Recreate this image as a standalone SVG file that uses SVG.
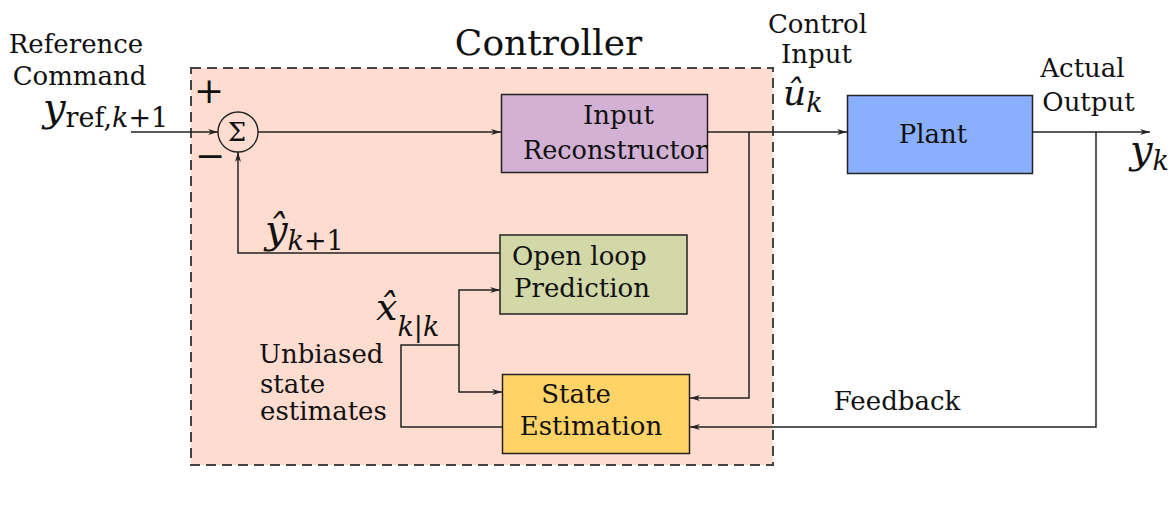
<svg xmlns="http://www.w3.org/2000/svg" width="1175" height="505" viewBox="0 0 1175 505">
  <style>
    .txt { font-family: "DejaVu Serif", "Liberation Serif", serif; font-size: 26px; fill: #111; }
    .box { stroke: #222; stroke-width: 1.5; }
    .wire { fill: none; stroke: #222; stroke-width: 1.5; }
    .math { font-family: "DejaVu Serif", "Liberation Serif", serif; font-style: italic; fill: #111; }
    .up { font-style: normal; }
  </style>
  <defs>
    <marker id="arr" viewBox="0 0 10 6" refX="10" refY="3" markerWidth="10" markerHeight="6" orient="auto" markerUnits="userSpaceOnUse">
      <path d="M0,0 L10,3 L0,6 L3,3 z" fill="#222"/>
    </marker>
  </defs>
  <rect width="1175" height="505" fill="#ffffff"/>

  <g id="controller">
    <rect x="191" y="68" width="582" height="397" fill="#FFDCD0" stroke="#444" stroke-width="2" stroke-dasharray="10,6"/>
    <text class="txt" x="548.5" y="55" text-anchor="middle" style="font-size:36px">Controller</text>
  </g>

  <g id="sum">
    <circle cx="238" cy="132" r="20" fill="none" stroke="#222" stroke-width="1.4"/>
    <text class="txt" x="237" y="141" text-anchor="middle" style="font-size:26px">Σ</text>
    <text class="txt" x="209" y="103" text-anchor="middle" style="font-size:36px">+</text>
    <text class="txt" x="210" y="168" text-anchor="middle" style="font-size:36px">−</text>
  </g>

  <g id="input-reconstructor">
    <rect class="box" x="501.5" y="94.5" width="206" height="78" fill="#D2B1D4"/>
    <text class="txt" x="618.5" y="124" text-anchor="middle">Input</text>
    <text class="txt" x="523" y="159" style="font-size:25.5px">Reconstructor</text>
  </g>

  <g id="plant">
    <rect class="box" x="847.5" y="95.5" width="185" height="78" fill="#8AAFFD"/>
    <text class="txt" x="933" y="143" text-anchor="middle">Plant</text>
  </g>

  <g id="open-loop-prediction">
    <rect class="box" x="500" y="235" width="187" height="79" fill="#D2D8A8"/>
    <text class="txt" x="512" y="265">Open loop</text>
    <text class="txt" x="514" y="297">Prediction</text>
  </g>

  <g id="state-estimation">
    <rect class="box" x="502.5" y="374.5" width="187" height="79" fill="#FFD366"/>
    <text class="txt" x="576" y="403" text-anchor="middle">State</text>
    <text class="txt" x="591" y="435" text-anchor="middle">Estimation</text>
  </g>

  <g id="connectors">
    <path class="wire" d="M131,132 H218" marker-end="url(#arr)"/>
    <path class="wire" d="M258,132 H501" marker-end="url(#arr)"/>
    <path class="wire" d="M707.5,132 H847" marker-end="url(#arr)"/>
    <path class="wire" d="M749,132 V398 H690" marker-end="url(#arr)"/>
    <path class="wire" d="M1032.5,132 H1150" marker-end="url(#arr)"/>
    <path class="wire" d="M1096,132 V427 H690" marker-end="url(#arr)"/>
    <path class="wire" d="M500,253 H238 V152" marker-end="url(#arr)"/>
    <path class="wire" d="M502.5,427 H401 V345 H459"/>
    <path class="wire" d="M459,345 V290 H500" marker-end="url(#arr)"/>
    <path class="wire" d="M459,345 V392 H502" marker-end="url(#arr)"/>
  </g>

  <g id="labels">
    <text class="txt" x="76" y="53" text-anchor="middle">Reference</text>
    <text class="txt" x="79.5" y="85" text-anchor="middle">Command</text>
    <text class="math" x="43" y="121" font-size="40">y<tspan class="up" font-size="27" dy="6">ref,</tspan><tspan font-size="27">k</tspan><tspan class="up" font-size="27">+1</tspan></text>

    <text class="txt" x="817.5" y="33" text-anchor="middle">Control</text>
    <text class="txt" x="816.5" y="63" text-anchor="middle">Input</text>
    <text class="math" x="783" y="105" font-size="36">û<tspan font-size="27" dy="7">k</tspan></text>

    <text class="txt" x="1082.5" y="77" text-anchor="middle">Actual</text>
    <text class="txt" x="1088.5" y="111" text-anchor="middle">Output</text>
    <text class="math" x="1130" y="163" font-size="40">y<tspan font-size="27" dy="7">k</tspan></text>

    <text class="math" x="265" y="243" font-size="40">ŷ<tspan font-size="27" dy="7">k</tspan><tspan class="up" font-size="27">+1</tspan></text>

    <text class="math" x="376" y="320" font-size="38">x̂<tspan font-size="27" dy="16">k</tspan><tspan class="up" font-size="27">|</tspan><tspan font-size="27">k</tspan></text>

    <text class="txt" x="259" y="363">Unbiased</text>
    <text class="txt" x="260" y="393">state</text>
    <text class="txt" x="260" y="420">estimates</text>

    <text class="txt" x="897" y="410" text-anchor="middle">Feedback</text>
  </g>
</svg>
